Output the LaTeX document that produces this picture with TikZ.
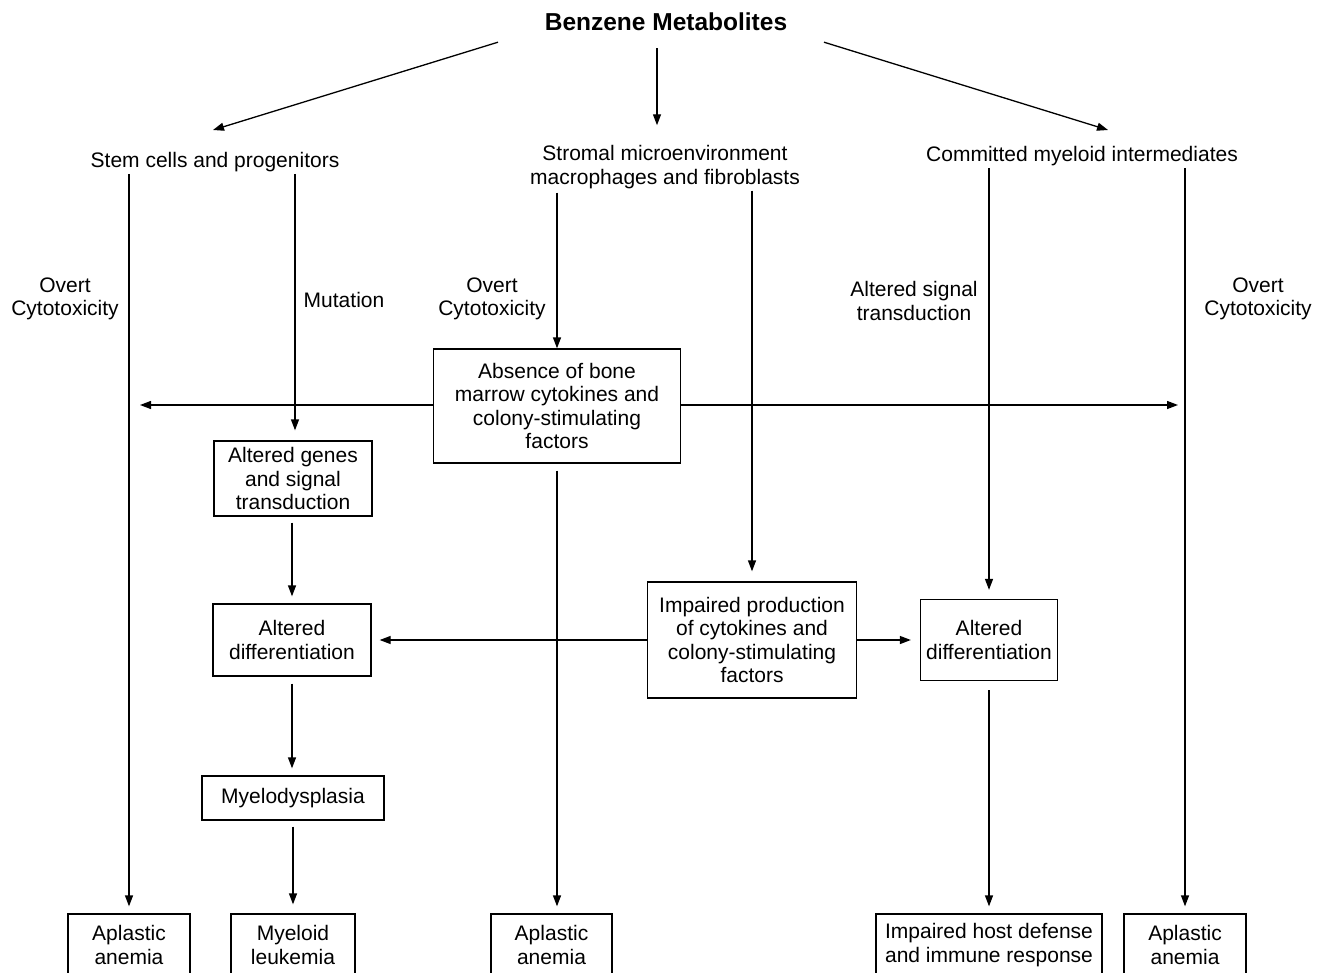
\documentclass[tikz,border=0pt]{standalone}
\usepackage{fontspec}
\setmainfont{Liberation Sans}
\usetikzlibrary{arrows.meta}
\begin{document}
\begin{tikzpicture}[x=1pt,y=-1pt,
  txt/.style={font=\fontsize{21}{23.5}\selectfont, align=center, inner sep=2pt},
  box/.style={txt, draw, line width=1.3pt, inner sep=0pt},
  arr/.style={-{Triangle[length=11pt,width=8pt]}, line width=1.3pt}]
\clip (0,0) rectangle (1329,973);
% top level
\node[txt,font=\fontsize{24.5}{27}\bfseries\selectfont] (title) at (666,22) {Benzene Metabolites};
\node[txt] (stem) at (215,162) {Stem cells and progenitors};
\node[txt] (strom) at (665,167) {Stromal microenvironment\\macrophages and fibroblasts};
\node[txt] (comm) at (1082,156) {Committed myeloid intermediates};
% labels
\node[txt] (ov1) at (65,299) {Overt\\Cytotoxicity};
\node[txt] (mut) at (344,300) {Mutation};
\node[txt] (ov2) at (492,299) {Overt\\Cytotoxicity};
\node[txt] (alt) at (914,301) {Altered signal\\transduction};
\node[txt] (ov3) at (1258,299) {Overt\\Cytotoxicity};
% boxes
\node[box,minimum width=247pt,minimum height=114pt] (abs) at (557,406) {Absence of bone\\marrow cytokines and\\colony-stimulating\\factors};
\node[box,minimum width=158pt,minimum height=75pt] (genes) at (293,478.5) {Altered genes\\and signal\\transduction};
\node[box,minimum width=158pt,minimum height=72pt] (diff1) at (292,640) {Altered\\differentiation};
\node[box,minimum width=182pt,minimum height=44pt] (myelo) at (293,798) {Myelodysplasia};
\node[box,minimum width=209pt,minimum height=116pt] (imp) at (752,640) {Impaired production\\of cytokines and\\colony-stimulating\\factors};
\node[box,minimum width=137pt,minimum height=81pt] (diff2) at (989,640) {Altered\\differentiation};
% bottom boxes (cut by page edge)
\node[box,minimum width=122pt,minimum height=62pt] (aa1) at (129,945) {Aplastic\\anemia};
\node[box,minimum width=124pt,minimum height=62pt] (mleuk) at (293,945) {Myeloid\\leukemia};
\node[box,minimum width=121pt,minimum height=62pt] (aa2) at (551.5,945) {Aplastic\\anemia};
\node[box,minimum width=226pt,minimum height=62pt] (host) at (989,945) {Impaired host defense\\and immune response};
\node[box,minimum width=122pt,minimum height=62pt] (aa3) at (1185,945) {Aplastic\\anemia};
% free ends
\coordinate (leftend) at (140,405);
\coordinate (rightend) at (1178,405);
% connectors from title
\draw[arr] ([shift={(-168pt,-9pt)}]title.south) -- ([shift={(-2pt,20pt)}]stem.north);
\draw[arr] ([shift={(-9pt,-15pt)}]title.south) -- ([shift={(-8pt,18pt)}]strom.north);
\draw[arr] ([shift={(158pt,-9pt)}]title.south) -- ([shift={(26pt,14pt)}]comm.north);
% stem cells
\draw[arr,shorten >=7pt] (stem.south -| aa1.north) -- (aa1.north);
\draw[arr,shorten >=10pt] ([xshift=2pt]genes.north |- stem.south) -- ([xshift=2pt]genes.north);
% stromal
\draw[arr,shorten <=2pt] (abs.north |- strom.south) -- (abs.north);
\draw[arr,shorten >=10pt] (imp.north |- strom.south) -- (imp.north);
% committed
\draw[arr,shorten >=9pt] (diff2.north |- comm.south) -- (diff2.north);
\draw[arr,shorten >=7pt] (aa3.north |- comm.south) -- (aa3.north);
% absence box
\draw[arr] (abs.west |- leftend) -- (leftend);
\draw[arr] (abs.east |- rightend) -- (rightend);
\draw[arr,shorten <=7pt,shorten >=7pt] (abs.south) -- (abs.south |- aa2.north);
% left column
\draw[arr,shorten <=6pt,shorten >=7pt] (genes.south -| diff1.north) -- (diff1.north);
\draw[arr,shorten <=7pt,shorten >=7pt] (diff1.south) -- (diff1.south |- myelo.north);
\draw[arr,shorten <=6pt,shorten >=9pt] (myelo.south) -- (mleuk.north);
% impaired production
\draw[arr,shorten >=8pt] (imp.west) -- (diff1.east);
\draw[arr,shorten >=9pt] (imp.east) -- (diff2.west);
\draw[arr,shorten <=9pt,shorten >=7pt] (diff2.south) -- (host.north);
\end{tikzpicture}
\end{document}
